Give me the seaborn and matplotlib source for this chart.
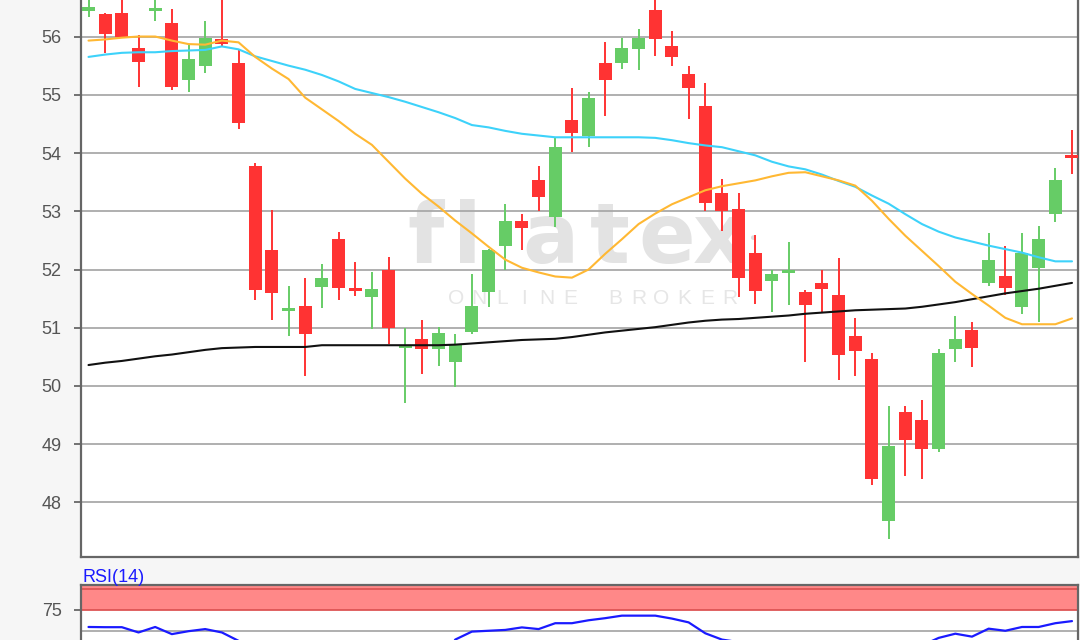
import numpy as np
import pandas as pd
import matplotlib
matplotlib.use("Agg")
import matplotlib.pyplot as plt
import seaborn as sns

# daily candles, oldest first (60 sessions)
opens = [56.43, 56.38, 56.41, 55.81, 56.44, 56.24, 55.26, 55.50, 55.96, 55.55,
         53.77, 52.33, 51.29, 51.37, 51.70, 52.53, 51.67, 51.52, 52.00, 50.66,
         50.81, 50.63, 50.41, 50.93, 51.61, 52.41, 52.84, 53.53, 52.90, 54.56,
         54.30, 55.55, 55.54, 55.78, 56.45, 55.83, 55.35, 54.80, 53.32, 53.04,
         52.29, 51.80, 51.94, 51.61, 51.77, 51.57, 50.85, 50.47, 47.68, 49.55,
         49.41, 48.91, 50.63, 50.96, 51.76, 51.88, 51.35, 52.02, 52.96, 53.95]
highs = [56.75, 56.41, 56.75, 56.03, 56.70, 56.48, 55.85, 56.27, 56.80, 55.76,
         53.82, 53.02, 51.71, 51.85, 52.10, 52.64, 52.13, 51.96, 52.22, 51.00,
         51.13, 51.02, 50.89, 51.92, 52.36, 53.12, 52.95, 53.77, 54.27, 55.11,
         55.04, 55.90, 55.97, 56.13, 56.75, 56.10, 55.49, 55.21, 53.56, 53.32,
         52.60, 52.00, 52.47, 51.64, 52.00, 52.19, 51.17, 50.57, 49.65, 49.65,
         49.76, 50.64, 51.20, 51.10, 52.63, 52.40, 52.63, 52.74, 53.74, 54.39]
lows = [56.33, 55.71, 55.98, 55.14, 56.26, 55.09, 55.04, 55.37, 55.83, 54.42,
        51.48, 51.14, 50.86, 50.18, 51.34, 51.48, 51.54, 50.97, 50.72, 49.70,
        50.20, 50.35, 49.98, 50.90, 51.35, 52.00, 52.34, 53.00, 52.73, 54.01,
        54.10, 54.63, 55.45, 55.43, 55.66, 55.49, 54.58, 53.00, 52.66, 51.53,
        51.41, 51.27, 51.39, 50.41, 51.27, 50.11, 50.17, 48.30, 47.37, 48.46,
        48.40, 48.87, 50.41, 50.32, 51.72, 51.57, 51.23, 51.10, 52.82, 53.64]
closes = [56.51, 56.05, 56.00, 55.57, 56.48, 55.14, 55.62, 55.98, 55.88, 54.51,
          51.65, 51.60, 51.33, 50.90, 51.85, 51.69, 51.63, 51.67, 50.99, 50.69,
          50.63, 50.91, 50.70, 51.37, 52.33, 52.84, 52.72, 53.24, 54.11, 54.35,
          54.94, 55.26, 55.81, 55.98, 55.95, 55.64, 55.12, 53.14, 53.00, 51.86,
          51.63, 51.92, 52.00, 51.39, 51.66, 50.53, 50.60, 48.40, 48.97, 49.08,
          48.91, 50.57, 50.81, 50.66, 52.16, 51.69, 52.29, 52.53, 53.53, 53.92]

# moving averages as drawn by the chart tool
sma_short = [55.93, 55.95, 55.98, 56.00, 56.00, 55.93, 55.87, 55.86, 55.93, 55.90,
             55.65, 55.45, 55.27, 54.95, 54.75, 54.55, 54.33, 54.14, 53.85, 53.56,
             53.30, 53.08, 52.84, 52.62, 52.39, 52.17, 52.03, 51.95, 51.88, 51.86,
             52.00, 52.27, 52.52, 52.78, 52.96, 53.12, 53.24, 53.36, 53.43, 53.48,
             53.53, 53.60, 53.66, 53.67, 53.60, 53.53, 53.44, 53.18, 52.87, 52.58,
             52.32, 52.06, 51.79, 51.58, 51.38, 51.17, 51.06, 51.06, 51.06, 51.16]
sma_mid = [55.65, 55.69, 55.72, 55.73, 55.73, 55.75, 55.76, 55.77, 55.83, 55.78,
           55.66, 55.58, 55.50, 55.43, 55.34, 55.23, 55.10, 55.03, 54.96, 54.88,
           54.79, 54.70, 54.60, 54.48, 54.44, 54.38, 54.33, 54.30, 54.27, 54.27,
           54.27, 54.27, 54.27, 54.27, 54.26, 54.22, 54.17, 54.13, 54.10, 54.03,
           53.96, 53.85, 53.77, 53.72, 53.63, 53.52, 53.42, 53.27, 53.13, 52.95,
           52.78, 52.65, 52.55, 52.48, 52.41, 52.35, 52.29, 52.21, 52.14, 52.14]
sma_long = [50.36, 50.40, 50.43, 50.47, 50.51, 50.54, 50.58, 50.62, 50.65, 50.66,
            50.67, 50.67, 50.67, 50.67, 50.70, 50.70, 50.70, 50.70, 50.70, 50.70,
            50.70, 50.70, 50.71, 50.73, 50.75, 50.77, 50.79, 50.80, 50.81, 50.84,
            50.88, 50.92, 50.95, 50.98, 51.01, 51.05, 51.09, 51.12, 51.14, 51.15,
            51.17, 51.19, 51.21, 51.24, 51.26, 51.28, 51.30, 51.31, 51.32, 51.33,
            51.36, 51.40, 51.44, 51.49, 51.54, 51.59, 51.63, 51.67, 51.72, 51.77]

rsi = [70.9, 70.85, 70.85, 69.6, 70.9, 69.2, 69.9, 70.4, 69.6, 67.6,
       55.0, 50.0, 49.0, 46.0, 49.0, 47.0, 47.0, 48.0, 45.0, 45.0,
       48.0, 60.0, 67.9, 69.8, 70.0, 70.2, 70.8, 70.4, 71.8, 71.8,
       72.5, 73.0, 73.6, 73.6, 73.6, 72.9, 72.0, 69.4, 67.9, 67.3,
       67.2, 67.2, 67.1, 67.1, 65.0, 60.0, 55.0, 45.0, 55.0, 60.0,
       66.5, 68.3, 69.3, 68.6, 70.5, 70.0, 70.9, 70.9, 71.8, 72.3]

price_ticks = [48, 49, 50, 51, 52, 53, 54, 55, 56]
rsi_ticks = [75]
rsi_label = "RSI(14)"

RED = "#ff3333"
GREEN = "#66cc66"
BG = "#f6f6f6"
GRID = "#a9a9a9"
SPINE = "#666666"

sns.set_theme(style="white")
plt.rcParams["font.family"] = ["Liberation Sans", "DejaVu Sans"]

df = pd.DataFrame({"day": np.arange(len(opens)), "open": opens, "high": highs,
                   "low": lows, "close": closes, "sma_short": sma_short,
                   "sma_mid": sma_mid, "sma_long": sma_long, "rsi": rsi})

fig = plt.figure(figsize=(10.8, 6.4), dpi=100, facecolor=BG)
ax = fig.add_axes([81 / 1080, 83 / 640, 996.5 / 1080, 557 / 640])
ax_rsi = fig.add_axes([81 / 1080, 0, 996.5 / 1080, 55 / 640], sharex=ax)

xlim = (-0.45, 59.33)

# --- price panel ---
ax.set_facecolor("white")
ax.set_axisbelow(True)
ax.grid(axis="y", color=GRID, linewidth=1.3)
ax.grid(axis="x", visible=False)

# watermark
logo = [("f", 426), ("l", 467), ("a", 550), ("t", 610), ("e", 667), ("x", 720)]
for ch, px in logo:
    ax.text((px - 81) / 996.5, (557 - 263) / 557, ch, transform=ax.transAxes,
            ha="center", va="baseline", fontsize=60, fontweight="bold",
            family="DejaVu Sans", color="#e3e3e3", zorder=0.2)
ax.text((752 - 81) / 996.5, (557 - 238) / 557, "\u25cf", transform=ax.transAxes,
        ha="center", va="center", fontsize=8, color="#dcdcdc", zorder=0.2)
sub = "ONLINE BROKER"
for k, ch in enumerate(sub):
    if ch == " ":
        continue
    ax.text((456 + 22.8 * k - 81) / 996.5, (557 - 298) / 557, ch,
            transform=ax.transAxes, ha="center", va="center", fontsize=15,
            color="#e6e6e6", zorder=0.2)

up = df["close"] >= df["open"]
colors = np.where(up, GREEN, RED)
body_h = (df["close"] - df["open"]).abs().clip(lower=0.05)
body_mid = (df["close"] + df["open"]) / 2
ax.vlines(df["day"], df["low"], df["high"], colors=colors, linewidth=1.4, zorder=2)
ax.bar(df["day"], body_h, bottom=body_mid - body_h / 2, width=0.78,
       color=colors, linewidth=0, zorder=3)

sns.lineplot(data=df, x="day", y="sma_long", color="#111111", linewidth=1.5,
             ax=ax, zorder=4)
sns.lineplot(data=df, x="day", y="sma_mid", color="#3dd2fa", linewidth=1.5,
             ax=ax, zorder=4)
sns.lineplot(data=df, x="day", y="sma_short", color="#ffb833", linewidth=1.5,
             ax=ax, zorder=4)

ax.set_xlim(*xlim)
ax.set_ylim(47.064, 56.627)
ax.set_yticks(price_ticks)
ax.set_yticklabels([str(t) for t in price_ticks])
ax.set_xlabel("")
ax.set_ylabel("")
ax.tick_params(axis="y", left=True, length=5, width=1.3, color=SPINE,
               labelsize=13, labelcolor="#555555", pad=9)
ax.tick_params(axis="x", bottom=False, labelbottom=False)
for side in ["left", "bottom", "right"]:
    ax.spines[side].set_color(SPINE)
    ax.spines[side].set_linewidth(1.6)
ax.spines["top"].set_visible(False)

# --- RSI panel ---
ax_rsi.set_facecolor("white")
ax_rsi.axhspan(75, 81, color="#ff8888", linewidth=0, zorder=1)
ax_rsi.axhline(75, color="#dd5555", linewidth=1.3, zorder=1.5)
ax_rsi.axhline(80, color="#dd5555", linewidth=1.3, zorder=1.5)
ax_rsi.axhline(70, color=GRID, linewidth=1.3, zorder=0.5)
sns.lineplot(data=df, x="day", y="rsi", color="#1a1aff", linewidth=1.6,
             ax=ax_rsi, zorder=3)
ax_rsi.set_ylim(67.8, 80.9)
ax_rsi.set_yticks(rsi_ticks)
ax_rsi.set_yticklabels([str(t) for t in rsi_ticks])
ax_rsi.set_xlabel("")
ax_rsi.set_ylabel("")
ax_rsi.tick_params(axis="y", left=True, length=5, width=1.3, color=SPINE,
                   labelsize=13, labelcolor="#555555", pad=9)
ax_rsi.tick_params(axis="x", bottom=False, labelbottom=False)
for side in ["left", "top", "right"]:
    ax_rsi.spines[side].set_color(SPINE)
    ax_rsi.spines[side].set_linewidth(1.6)
ax_rsi.spines["bottom"].set_visible(False)

fig.text(82 / 1080, (640 - 582) / 640, rsi_label, color="#1a1aff",
         fontsize=13, ha="left", va="baseline")

fig.savefig("out.png", dpi=100, facecolor=BG)
